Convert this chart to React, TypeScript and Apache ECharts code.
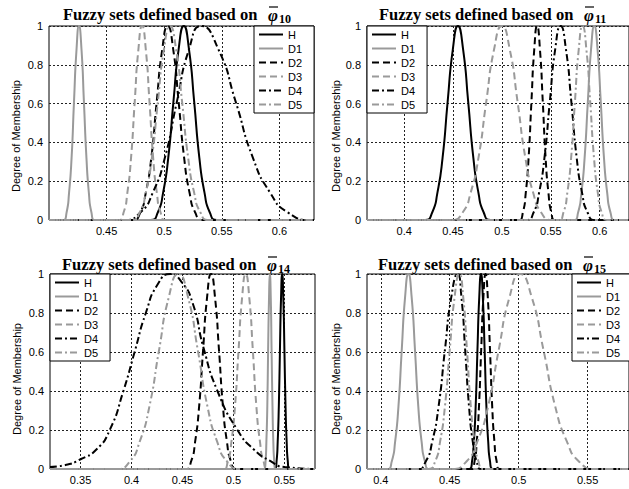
import React, { useEffect, useRef } from 'react';
import * as echarts from 'echarts';

const seriesNames = ['H', 'D1', 'D2', 'D3', 'D4', 'D5'];
const seriesColors = ['#000000', '#9a9a9a', '#000000', '#9a9a9a', '#000000', '#9a9a9a'];
const seriesDash: any[] = ['solid', 'solid', [7, 4], [7, 4], [7, 3, 2, 3], [7, 3, 2, 3]];

const panelSubs = ['10', '11', '14', '15'];
const yAxisName = 'Degree of Membership';
const xRanges = [[0.40, 0.63], [0.362, 0.63], [0.32, 0.58], [0.39, 0.58]];
const xTicks1 = [0.45, 0.5, 0.55, 0.6];
const xTicks2 = [0.4, 0.45, 0.5, 0.55, 0.6];
const xTicks3 = [0.35, 0.4, 0.45, 0.5, 0.55];
const xTicks4 = [0.4, 0.45, 0.5, 0.55];
const yTicks = [0, 0.2, 0.4, 0.6, 0.8, 1];

// Panel 1 (phi 10)
const p1H = [[0.40,0],[0.4882,0],[0.4945,0.04],[0.499,0.14],[0.5035,0.32],[0.508,0.61],[0.5125,0.88],[0.517,1],[0.5215,0.88],[0.526,0.61],[0.5305,0.32],[0.535,0.14],[0.5395,0.04],[0.5458,0],[0.63,0]];
const p1D1 = [[0.40,0],[0.4122,0],[0.4153,0.04],[0.4174,0.14],[0.4196,0.32],[0.4217,0.61],[0.4239,0.88],[0.426,1],[0.4282,0.88],[0.4303,0.61],[0.4325,0.32],[0.4346,0.14],[0.4368,0.04],[0.4398,0],[0.63,0]];
const p1D2 = [[0.40,0],[0.4726,0],[0.4793,0.04],[0.484,0.14],[0.4888,0.32],[0.4935,0.61],[0.4983,0.88],[0.503,1],[0.5078,0.88],[0.5125,0.61],[0.5173,0.32],[0.522,0.14],[0.5268,0.04],[0.5334,0],[0.63,0]];
const p1D3 = [[0.40,0],[0.4603,0],[0.4648,0.04],[0.468,0.14],[0.4712,0.32],[0.4744,0.61],[0.4776,0.88],[0.4808,1],[0.484,0.88],[0.4872,0.61],[0.4904,0.32],[0.4936,0.14],[0.4968,0.04],[0.5013,0],[0.63,0]];
const p1D4 = [[0.40,0],[0.4648,0],[0.4795,0.04],[0.49,0.14],[0.5005,0.32],[0.511,0.61],[0.5215,0.88],[0.532,1],[0.547,0.88],[0.562,0.61],[0.577,0.32],[0.592,0.14],[0.607,0.04],[0.628,0],[0.63,0]];
const p1D5 = [[0.40,0],[0.4714,0],[0.4788,0.04],[0.484,0.14],[0.4893,0.32],[0.4945,0.61],[0.4998,0.88],[0.505,1],[0.5103,0.88],[0.5155,0.61],[0.5208,0.32],[0.526,0.14],[0.5313,0.04],[0.5386,0],[0.63,0]];

// Panel 2 (phi 11)
const p2H = [[0.362,0],[0.4214,0],[0.4288,0.04],[0.434,0.14],[0.4393,0.32],[0.4445,0.61],[0.4498,0.88],[0.455,1],[0.4603,0.88],[0.4655,0.61],[0.4708,0.32],[0.476,0.14],[0.4813,0.04],[0.4886,0],[0.63,0]];
const p2D1 = [[0.362,0],[0.5734,0],[0.578,0.04],[0.5813,0.14],[0.5846,0.32],[0.5879,0.61],[0.5912,0.88],[0.5945,1],[0.5978,0.88],[0.6011,0.61],[0.6044,0.32],[0.6077,0.14],[0.611,0.04],[0.6156,0],[0.63,0]];
const p2D2 = [[0.362,0],[0.5174,0],[0.5215,0.04],[0.5244,0.14],[0.5273,0.32],[0.5302,0.61],[0.5331,0.88],[0.536,1],[0.5389,0.88],[0.5418,0.61],[0.5447,0.32],[0.5476,0.14],[0.5505,0.04],[0.5546,0],[0.63,0]];
const p2D3 = [[0.362,0],[0.4488,0],[0.46,0.04],[0.468,0.14],[0.476,0.32],[0.484,0.61],[0.492,0.88],[0.5,1],[0.508,0.88],[0.516,0.61],[0.524,0.32],[0.532,0.14],[0.54,0.04],[0.5512,0],[0.63,0]];
const p2D4 = [[0.362,0],[0.5248,0],[0.5325,0.04],[0.538,0.14],[0.5435,0.32],[0.549,0.61],[0.5545,0.88],[0.56,1],[0.5655,0.88],[0.571,0.61],[0.5765,0.32],[0.582,0.14],[0.5875,0.04],[0.5952,0],[0.63,0]];
const p2D5 = [[0.362,0],[0.5575,0],[0.563,0.04],[0.5669,0.14],[0.5708,0.32],[0.5747,0.61],[0.5786,0.88],[0.5825,1],[0.5864,0.88],[0.5903,0.61],[0.5942,0.32],[0.5981,0.14],[0.602,0.04],[0.6075,0],[0.63,0]];

// Panel 3 (phi 14)
const p3H = [[0.32,0],[0.5408,0],[0.5423,0.04],[0.5434,0.14],[0.5445,0.32],[0.5456,0.61],[0.5467,0.88],[0.5478,1],[0.5489,0.88],[0.55,0.61],[0.5511,0.32],[0.5522,0.14],[0.5533,0.04],[0.5548,0],[0.58,0]];
const p3D1 = [[0.32,0],[0.5303,0],[0.5315,0.04],[0.5323,0.14],[0.5332,0.32],[0.534,0.61],[0.5349,0.88],[0.5357,1],[0.5366,0.88],[0.5374,0.61],[0.5383,0.32],[0.5391,0.14],[0.54,0.04],[0.5411,0],[0.58,0]];
const p3D2 = [[0.32,0],[0.453,0],[0.4585,0.04],[0.4624,0.14],[0.4663,0.32],[0.4702,0.61],[0.4741,0.88],[0.478,1],[0.4819,0.88],[0.4858,0.61],[0.4897,0.32],[0.4936,0.14],[0.4975,0.04],[0.503,0],[0.58,0]];
const p3D3 = [[0.32,0],[0.4896,0],[0.4945,0.04],[0.498,0.14],[0.5015,0.32],[0.505,0.61],[0.5085,0.88],[0.512,1],[0.5155,0.88],[0.519,0.61],[0.5225,0.32],[0.526,0.14],[0.5295,0.04],[0.5344,0],[0.58,0]];
const p3D4 = [[0.32,0.01],[0.335,0.02],[0.35,0.05],[0.3655,0.1],[0.3786,0.2],[0.392,0.4],[0.403,0.6],[0.414,0.8],[0.426,0.95],[0.438,1],[0.449,0.96],[0.46,0.85],[0.4707,0.62],[0.4843,0.4],[0.5039,0.2],[0.52,0.1],[0.5364,0.04],[0.55,0.01],[0.58,0]];
const p3D5 = [[0.32,0],[0.3852,0],[0.3985,0.04],[0.408,0.14],[0.4175,0.32],[0.427,0.61],[0.4365,0.88],[0.446,1],[0.4555,0.88],[0.465,0.61],[0.4745,0.32],[0.484,0.14],[0.4935,0.04],[0.5068,0],[0.58,0]];

// Panel 4 (phi 15)
const p4H = [[0.39,0],[0.4644,0],[0.4662,0.04],[0.4675,0.14],[0.4688,0.32],[0.4701,0.61],[0.4714,0.88],[0.4727,1],[0.474,0.88],[0.4753,0.61],[0.4766,0.32],[0.4779,0.14],[0.4792,0.04],[0.481,0],[0.58,0]];
const p4D1 = [[0.39,0],[0.4046,0],[0.408,0.04],[0.4104,0.14],[0.4128,0.32],[0.4152,0.61],[0.4176,0.88],[0.42,1],[0.4224,0.88],[0.4248,0.61],[0.4272,0.32],[0.4296,0.14],[0.432,0.04],[0.4354,0],[0.58,0]];
const p4D2 = [[0.39,0],[0.4658,0],[0.468,0.04],[0.4696,0.14],[0.4712,0.32],[0.4728,0.61],[0.4744,0.88],[0.476,1],[0.4776,0.88],[0.4792,0.61],[0.4808,0.32],[0.4824,0.14],[0.484,0.04],[0.4862,0],[0.58,0]];
const p4D3 = [[0.39,0],[0.4514,0],[0.4623,0.04],[0.47,0.14],[0.4778,0.32],[0.4855,0.61],[0.4933,0.88],[0.501,1],[0.5095,0.88],[0.518,0.61],[0.5265,0.32],[0.535,0.14],[0.5435,0.04],[0.5554,0],[0.58,0]];
const p4D4 = [[0.39,0],[0.4263,0],[0.4327,0.04],[0.4373,0.14],[0.4419,0.32],[0.4465,0.61],[0.4511,0.88],[0.4557,1],[0.4585,0.88],[0.4612,0.61],[0.464,0.32],[0.4667,0.14],[0.4695,0.04],[0.4733,0],[0.58,0]];
const p4D5 = [[0.39,0],[0.4346,0],[0.4395,0.04],[0.443,0.14],[0.4465,0.32],[0.45,0.61],[0.4535,0.88],[0.457,1],[0.4598,0.88],[0.4625,0.61],[0.4653,0.32],[0.468,0.14],[0.4708,0.04],[0.4746,0],[0.58,0]];

const panelData = [
  [p1H, p1D1, p1D2, p1D3, p1D4, p1D5],
  [p2H, p2D1, p2D2, p2D3, p2D4, p2D5],
  [p3H, p3D1, p3D2, p3D3, p3D4, p3D5],
  [p4H, p4D1, p4D2, p4D3, p4D4, p4D5],
];
const panelXTicks = [xTicks1, xTicks2, xTicks3, xTicks4];

// layout (pixels)
const grids = [
  { left: 49, top: 26, width: 265, height: 194 },
  { left: 367, top: 26, width: 262, height: 194 },
  { left: 50, top: 274, width: 265, height: 195 },
  { left: 367, top: 274, width: 262, height: 195 },
];
const legendPos = [
  { left: 254, top: 26 },
  { left: 367, top: 26 },
  { left: 50, top: 274 },
  { left: 572, top: 274 },
];
const titlePos = [
  { x: 63, y: 14 },
  { x: 379, y: 14 },
  { x: 62, y: 264 },
  { x: 378, y: 264 },
];
const yNamePos = [
  { x: 16, y: 136 },
  { x: 336, y: 136 },
  { x: 17, y: 379 },
  { x: 336, y: 379 },
];

const SANS = '"Liberation Sans", Arial, sans-serif';
const SERIF = '"Liberation Serif", "Times New Roman", serif';

function fmt(v: number) {
  return String(parseFloat(Number(v).toFixed(3)));
}

function buildTitle(i: number) {
  const { x, y } = titlePos[i];
  return {
    type: 'group',
    silent: true,
    children: [
      {
        type: 'text',
        x,
        y,
        style: {
          text: 'Fuzzy sets defined based on',
          font: `bold 16.5px ${SERIF}`,
          fill: '#000',
          verticalAlign: 'middle',
          align: 'left',
        },
      },
      {
        type: 'text',
        x: x + 205,
        y: y + 1,
        style: {
          text: 'φ',
          font: `italic bold 17px ${SERIF}`,
          fill: '#000',
          verticalAlign: 'middle',
          align: 'left',
        },
      },
      {
        type: 'line',
        shape: { x1: x + 206, y1: y - 7, x2: x + 215, y2: y - 7 },
        style: { stroke: '#000', lineWidth: 1.2 },
      },
      {
        type: 'text',
        x: x + 216,
        y: y + 5,
        style: {
          text: panelSubs[i],
          font: `bold 12px ${SERIF}`,
          fill: '#000',
          verticalAlign: 'middle',
          align: 'left',
        },
      },
    ],
  };
}

function buildYName(i: number) {
  return {
    type: 'text',
    silent: true,
    x: yNamePos[i].x,
    y: yNamePos[i].y,
    rotation: Math.PI / 2,
    style: {
      text: yAxisName,
      font: `11px ${SANS}`,
      fill: '#000',
      align: 'center',
      verticalAlign: 'middle',
    },
  };
}

export default function App() {
  const ref = useRef<HTMLDivElement>(null);
  useEffect(() => {
    if (!ref.current) return;
    const chart = echarts.init(ref.current, null, { renderer: 'svg' });
    const gridLine = { show: true, lineStyle: { color: '#222', type: [2, 2], width: 1 } };
    const option: any = {
      animation: false,
      backgroundColor: '#ffffff',
      grid: grids.map((g) => ({
        ...g,
        show: true,
        borderColor: '#000',
        borderWidth: 1,
        backgroundColor: '#fff',
        containLabel: false,
      })),
      xAxis: grids.map((_, i) => ({
        type: 'value',
        gridIndex: i,
        min: xRanges[i][0],
        max: xRanges[i][1],
        axisLine: { show: false },
        axisTick: { show: false, customValues: panelXTicks[i] },
        axisLabel: {
          customValues: panelXTicks[i],
          formatter: (v: number) => fmt(v),
          fontSize: 11,
          fontFamily: SANS,
          color: '#000',
          margin: 5,
        },
        splitLine: gridLine,
      })),
      yAxis: grids.map((_, i) => ({
        type: 'value',
        gridIndex: i,
        min: 0,
        max: 1,
        axisLine: { show: false },
        axisTick: { show: false, customValues: yTicks },
        axisLabel: {
          customValues: yTicks,
          formatter: (v: number) => fmt(v),
          fontSize: 11,
          fontFamily: SANS,
          color: '#000',
          margin: 6,
        },
        splitLine: gridLine,
      })),
      legend: grids.map((_, i) => ({
        orient: 'vertical',
        left: legendPos[i].left,
        top: legendPos[i].top,
        data: seriesNames,
        backgroundColor: '#fff',
        borderColor: '#000',
        borderWidth: 1,
        borderRadius: 0,
        padding: [3, 12, 3, 4],
        itemGap: 3,
        itemWidth: 24,
        itemHeight: 10,
        selectedMode: false,
        itemStyle: { opacity: 0, color: 'transparent', borderWidth: 0 },
        textStyle: { fontSize: 11, fontFamily: SANS, color: '#000' },
      })),
      series: panelData.flatMap((curves, i) =>
        curves.map((data, j) => ({
          type: 'line',
          name: seriesNames[j],
          xAxisIndex: i,
          yAxisIndex: i,
          data,
          symbol: 'none',
          showSymbol: false,
          smooth: 0.6,
          silent: true,
          lineStyle: { color: seriesColors[j], width: 2, type: seriesDash[j] },
          itemStyle: { color: seriesColors[j] },
        }))
      ),
      graphic: [
        ...panelSubs.map((_, i) => buildTitle(i)),
        ...panelSubs.map((_, i) => buildYName(i)),
      ],
    };
    chart.setOption(option);
    return () => chart.dispose();
  }, []);
  return (
    <div
      ref={ref}
      style={{ position: 'absolute', left: 0, top: 0, width: 629, height: 489, background: '#fff' }}
    />
  );
}
